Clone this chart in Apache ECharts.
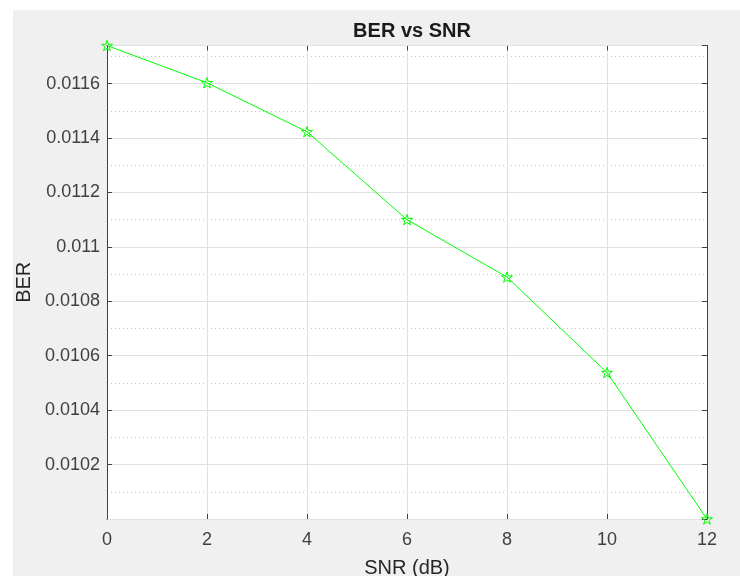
<!DOCTYPE html>
<html>
<head>
<meta charset="utf-8">
<script src="https://cdn.jsdelivr.net/npm/echarts@6/dist/echarts.min.js"></script>
<style>
html,body{margin:0;padding:0;background:#ffffff;width:740px;height:576px;overflow:hidden;}
#chart{position:absolute;left:13px;top:10px;width:727px;height:566px;background:#f0f0f0;}
</style>
</head>
<body>
<div id="chart"></div>
<script>
// ---- data ----
const snrValues = [0, 2, 4, 6, 8, 10, 12];
const berValues = [0.01174, 0.011603, 0.011423, 0.01110, 0.010889, 0.010538, 0.01000];
const titleText = 'BER vs SNR';
const xName = 'SNR (dB)';
const yName = 'BER';
const xRange = [0, 12];
const xStep = 2;
const yRange = [0.0100, 0.01174];
const yMajorStep = 0.0002;
const yMinorStep = 0.0001;

const star = 'path://M10 0 L12.245 6.91 L19.511 6.91 L13.633 11.18 L15.878 18.09 L10 13.82 L4.122 18.09 L6.367 11.18 L0.489 6.91 L7.755 6.91 Z';
const fontFam = '"Liberation Sans", Arial, sans-serif';
const axisCol = '#404040';
const labelCol = '#404040';

const chart = echarts.init(document.getElementById('chart'));
const yBase = {type: 'value', min: yRange[0], max: yRange[1]};
chart.setOption({
  animation: false,
  backgroundColor: '#f0f0f0',
  title: {
    text: titleText, left: 394, top: 6, textAlign: 'center',
    textStyle: {fontFamily: fontFam, fontSize: 20, fontWeight: 'bold', color: '#1a1a1a'}
  },
  grid: {left: 94, right: 33, top: 35.5, bottom: 57, backgroundColor: '#ffffff', show: true, borderWidth: 0,
         containLabel: false, outerBoundsMode: 'none'},
  xAxis: [
    {
      type: 'value', min: xRange[0], max: xRange[1], interval: xStep, position: 'bottom',
      name: xName, nameLocation: 'middle', nameGap: 39,
      nameTextStyle: {fontFamily: fontFam, fontSize: 20, color: '#262626'},
      axisLine: {show: true, lineStyle: {color: axisCol, width: 1}},
      axisTick: {show: true, inside: true, length: 5, lineStyle: {color: axisCol}},
      axisLabel: {fontFamily: fontFam, fontSize: 18, color: labelCol, margin: 12},
      splitLine: {show: true, lineStyle: {color: '#e0e0e0', width: 1}}
    },
    {
      type: 'value', min: xRange[0], max: xRange[1], interval: xStep, position: 'top',
      axisLine: {show: true, lineStyle: {color: axisCol, width: 1}},
      axisTick: {show: true, inside: true, length: 5, lineStyle: {color: axisCol}},
      axisLabel: {show: false}, splitLine: {show: false}
    }
  ],
  yAxis: [
    Object.assign({}, yBase, {
      interval: yMinorStep, position: 'left', z: 0,
      axisLine: {show: false}, axisTick: {show: false}, axisLabel: {show: false},
      splitLine: {show: true, lineStyle: {color: '#c4c4c4', width: 1, type: [1, 3]}}
    }),
    Object.assign({}, yBase, {
      interval: yMajorStep, position: 'left', z: 2,
      name: yName, nameLocation: 'middle', nameGap: 65, nameRotate: 90,
      nameTextStyle: {fontFamily: fontFam, fontSize: 20, color: '#262626'},
      axisLine: {show: true, onZero: false, lineStyle: {color: axisCol, width: 1}},
      axisTick: {show: true, inside: true, length: 5, lineStyle: {color: axisCol}},
      axisLabel: {
        fontFamily: fontFam, fontSize: 18, color: labelCol, margin: 7,
        showMinLabel: false, showMaxLabel: false,
        formatter: v => String(parseFloat(v.toFixed(6)))
      },
      splitLine: {show: true, lineStyle: {color: '#e0e0e0', width: 1}}
    }),
    Object.assign({}, yBase, {
      interval: yMajorStep, position: 'right', z: 2,
      axisLine: {show: true, onZero: false, lineStyle: {color: axisCol, width: 1}},
      axisTick: {show: true, inside: true, length: 5, lineStyle: {color: axisCol}},
      axisLabel: {show: false}, splitLine: {show: false}
    })
  ],
  series: [{
    type: 'line', xAxisIndex: 0, yAxisIndex: 1, z: 5,
    data: snrValues.map((x, i) => [x, berValues[i]]),
    clip: false,
    symbol: star, symbolSize: 11, symbolKeepAspect: true,
    lineStyle: {color: '#00ff00', width: 1},
    itemStyle: {color: 'rgba(0,0,0,0)', borderColor: '#00ff00', borderWidth: 1}
  }]
});
</script>
</body>
</html>
